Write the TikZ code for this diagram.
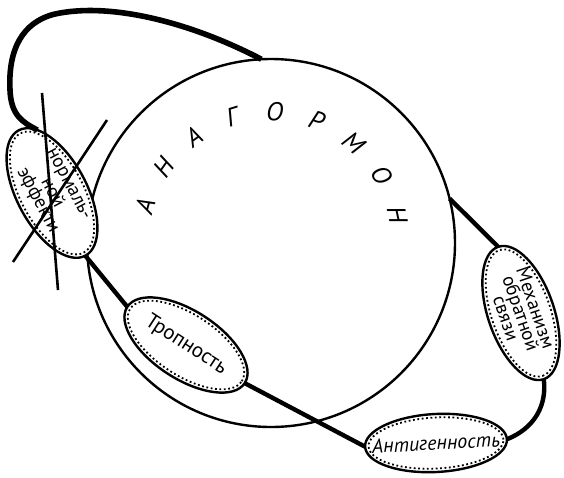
\documentclass[tikz,border=0pt]{standalone}
\usepackage{fontspec}
\setmainfont{PT Sans}
\usetikzlibrary{shapes.geometric}

\tikzset{
  organ/.style={ellipse, draw, line width=1.2pt, fill=white, inner sep=0pt, outer sep=0pt},
  organdots/.style={ellipse, draw, line width=0.9pt, dash pattern=on 0.9pt off 1.3pt, inner sep=0pt},
  organtext/.style={inner sep=0pt, align=center},
  link/.style={line width=2.2pt},
  strike/.style={line width=1.3pt},
}

\begin{document}
\begin{tikzpicture}[x=0.5pt, y=-0.5pt]
  \useasboundingbox (0,0) rectangle (564,478);

  % Anagormon
  \node[circle, draw, line width=1.2pt, minimum size=184pt, inner sep=0pt, outer sep=0pt] (ana) at (271,243) {};
  \foreach \l [count=\i] in {А,Н,А,Г,О,Р,М,О,Н} {
    \pgfmathsetmacro{\a}{164-19*(\i-1)}
    \node[font=\fontsize{13}{13}\selectfont\itshape, rotate=\a-90] (l\i) at ({270+130*cos(\a)}, {242-130*sin(\a)}) {\l};
  }

  % Organs
  \node[organ, rotate=-62, minimum width=71pt, minimum height=35pt] (norm) at (52,193) {};
  \node[organdots, rotate=-62, minimum width=67.5pt, minimum height=31.5pt] (normd) at (norm) {};
  \node[organtext, rotate=-62, font=\fontsize{9.5}{8}\selectfont] (normt) at (norm) {нормаль-\\ной\\эффекти};

  \node[organ, rotate=-33, minimum width=70pt, minimum height=34pt] (trop) at (186,345) {};
  \node[organdots, rotate=-33, minimum width=66.5pt, minimum height=30.5pt] (tropd) at (trop) {};
  \node[organtext, rotate=-33, font=\fontsize{10.5}{12}\selectfont] (tropt) at (trop) {Тропность};

  \node[organ, rotate=3, minimum width=71pt, minimum height=29pt] (anti) at (436,443) {};
  \node[organdots, rotate=3, minimum width=67.5pt, minimum height=25.5pt] (antid) at (anti) {};
  \node[organtext, rotate=3, font=\fontsize{10}{12}\selectfont\itshape] (antit) at (anti) {Антигенность};

  \node[organ, rotate=-71, minimum width=70pt, minimum height=33pt] (mech) at (521,313) {};
  \node[organdots, rotate=-71, minimum width=66.5pt, minimum height=29.5pt] (mechd) at (mech) {};
  \node[organtext, rotate=-71, font=\fontsize{9.5}{7.8}\selectfont] (mecht) at (mech) {Механизм\\обратной\\связи};

  % Links
  \draw[link] (norm.east) -- (trop.west);
  \draw[link] (trop.east) -- (anti.west);
  \draw[link] (anti.east) .. controls (535,428) and (547,405) .. (mech.east);
  \draw[link] (mech.west) -- (ana.14);
  \draw[link, line width=2.8pt] (ana.93) .. controls (190,22) and (110,2) .. (55,14)
    .. controls (22,22) and (8,50) .. (10,90) .. controls (11,115) and (22,122) .. (norm.165);

  % Crossed out
  \coordinate (s1a) at (42,93);
  \coordinate (s1b) at (58,290);
  \coordinate (s2a) at (107,120);
  \coordinate (s2b) at (13,262);
  \draw[strike] (s1a) -- (s1b);
  \draw[strike] (s2a) -- (s2b);
\end{tikzpicture}
\end{document}
